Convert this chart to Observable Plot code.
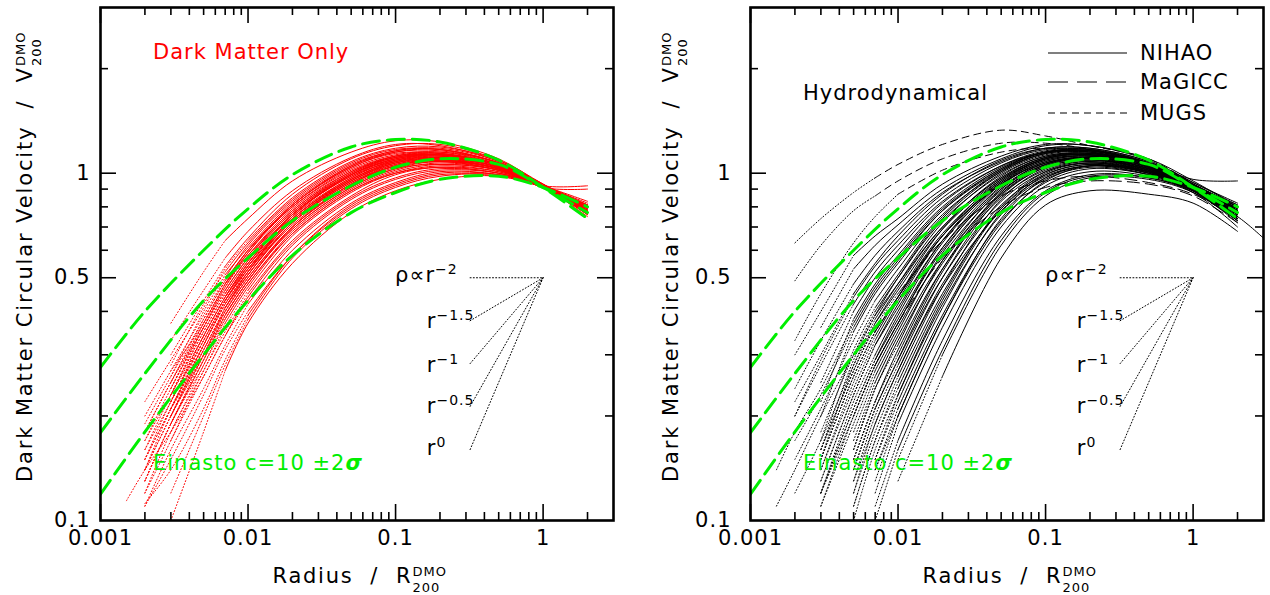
<!DOCTYPE html>
<html><head><meta charset="utf-8">
<script src="https://cdn.jsdelivr.net/npm/d3@7"></script>
<script src="https://cdn.jsdelivr.net/npm/@observablehq/plot@0.6"></script>
<style>
html,body{margin:0;padding:0;background:#fff;}
#wrap{display:flex;width:1270px;height:595px;overflow:hidden;}
#wrap text{letter-spacing:1px;}
</style></head>
<body><div id="wrap"></div>
<script>
const FONT = "DejaVu Sans, sans-serif";
const RED = "#ff0000", GREEN = "#00ee00";
const N = null;

// ---- axis ticks ----
const xMajorTicks = [0.001, 0.01, 0.1, 1];
const xMajorLabels = ["0.001", "0.01", "0.1", "1"];
const xMinorTicks = [0.002,0.003,0.004,0.005,0.006,0.007,0.008,0.009,0.02,0.03,0.04,0.05,0.06,0.07,0.08,0.09,0.2,0.3,0.4,0.5,0.6,0.7,0.8,0.9,2];
const yMajorTicks = [0.1, 0.5, 1];
const yMajorLabels = ["0.1", "0.5", "1"];
const yMinorTicks = [0.2,0.3,0.4,0.6,0.7,0.8,0.9,2];

// ---- Einasto c=10 +-2 sigma (green) ----
const einastoRadii = [0.001, 0.002, 0.005, 0.01, 0.02, 0.05, 0.1, 0.2, 0.5, 1, 2];
const einastoHigh  = [0.276, 0.40, 0.60, 0.79, 0.99, 1.19, 1.25, 1.23, 1.09, 0.91, 0.74];
const einastoMid   = [0.179, 0.265, 0.43, 0.57, 0.73, 0.92, 1.04, 1.10, 1.06, 0.91, 0.77];
const einastoLow   = [0.119, 0.18, 0.30, 0.43, 0.58, 0.77, 0.88, 0.96, 0.98, 0.91, 0.80];

// ---- slope guides (hub at r=1, V=0.5) ----
const guideNames = ["rho-2", "r-1.5", "r-1", "r-0.5", "r0"];
const guideStartR = 0.32;
const guideStartV = [0.5, 0.376, 0.283, 0.213, 0.16];
const guideHub = {r: 1, v: 0.5};
const guideLabelR = [0.1, 0.164, 0.164, 0.164, 0.164];
const guideLabelV = [0.485, 0.357, 0.267, 0.203, 0.154];
const guideBase = ["\u03C1\u221Dr", "r", "r", "r", "r"];
const guideExp = ["\u22122", "\u22121.5", "\u22121", "\u22120.5", "0"];

// ---- simulated rotation curves: first entry = convergence radius, then V at curveRadii ----
const curveRadii = [0.0015, 0.002, 0.003, 0.005, 0.007, 0.01, 0.02, 0.05, 0.1, 0.2, 0.5, 1, 2, 3];

const dmoCurves = [
  [0.007, N, N, 0.37, 0.52, 0.64, 0.74, 0.95, 1.15, 1.24, 1.23, 1.10, 0.92, 0.75, N],
  [0.007, N, N, 0.33, 0.46, 0.57, 0.68, 0.89, 1.11, 1.21, 1.20, 1.08, 0.92, 0.77, N],
  [0.01, N, 0.22, 0.29, 0.41, 0.53, 0.64, 0.85, 1.08, 1.18, 1.19, 1.09, 0.93, 0.78, N],
  [0.007, N, 0.20, 0.27, 0.39, 0.50, 0.62, 0.83, 1.06, 1.16, 1.18, 1.08, 0.92, 0.79, N],
  [0.01, N, 0.19, 0.26, 0.38, 0.49, 0.60, 0.81, 1.04, 1.15, 1.17, 1.07, 0.92, 0.76, N],
  [0.007, N, N, 0.27, 0.37, 0.48, 0.59, 0.80, 1.03, 1.13, 1.15, 1.06, 0.91, 0.78, N],
  [0.01, N, 0.17, 0.24, 0.36, 0.47, 0.58, 0.78, 1.01, 1.12, 1.14, 1.06, 0.92, 0.80, N],
  [0.007, N, 0.18, 0.25, 0.36, 0.46, 0.57, 0.77, 1.00, 1.11, 1.14, 1.05, 0.91, 0.77, N],
  [0.01, N, 0.16, 0.23, 0.35, 0.45, 0.56, 0.76, 0.99, 1.10, 1.13, 1.05, 0.92, 0.79, N],
  [0.007, N, 0.17, 0.23, 0.34, 0.44, 0.55, 0.75, 0.97, 1.09, 1.12, 1.04, 0.91, 0.78, N],
  [0.01, N, 0.15, 0.22, 0.33, 0.43, 0.54, 0.74, 0.96, 1.08, 1.11, 1.04, 0.92, 0.80, N],
  [0.007, N, N, 0.22, 0.33, 0.43, 0.53, 0.73, 0.95, 1.07, 1.11, 1.04, 0.91, 0.81, N],
  [0.01, N, 0.14, 0.21, 0.32, 0.42, 0.52, 0.72, 0.94, 1.06, 1.10, 1.03, 0.91, 0.77, N],
  [0.007, N, 0.15, 0.21, 0.31, 0.41, 0.51, 0.71, 0.93, 1.05, 1.09, 1.03, 0.92, 0.82, N],
  [0.01, N, 0.14, 0.20, 0.31, 0.40, 0.50, 0.70, 0.92, 1.04, 1.08, 1.03, 0.91, 0.78, N],
  [0.007, N, N, 0.21, 0.30, 0.39, 0.49, 0.69, 0.91, 1.03, 1.08, 1.02, 0.92, 0.92, N],
  [0.01, N, 0.13, 0.19, 0.29, 0.38, 0.48, 0.68, 0.90, 1.02, 1.07, 1.02, 0.91, 0.79, N],
  [0.007, N, 0.13, 0.19, 0.28, 0.37, 0.47, 0.67, 0.89, 1.01, 1.06, 1.02, 0.92, 0.80, N],
  [0.01, N, 0.12, 0.18, 0.27, 0.36, 0.46, 0.66, 0.88, 1.00, 1.05, 1.01, 0.91, 0.76, N],
  [0.01, N, 0.12, 0.17, 0.27, 0.35, 0.45, 0.64, 0.86, 0.99, 1.04, 1.01, 0.92, 0.83, N],
  [0.007, N, N, 0.17, 0.26, 0.34, 0.44, 0.63, 0.85, 0.97, 1.03, 1.00, 0.91, 0.78, N],
  [0.01, 0.114, 0.14, 0.18, 0.26, 0.34, 0.43, 0.62, 0.84, 0.96, 1.02, 1.00, 0.92, 0.80, N],
  [0.01, N, 0.11, 0.16, 0.24, 0.32, 0.42, 0.60, 0.82, 0.94, 1.01, 0.99, 0.91, 0.79, N],
  [0.007, N, N, 0.10, 0.18, 0.27, 0.37, 0.55, 0.77, 0.89, 0.96, 0.98, 0.91, 0.80, N],
  [0.01, N, 0.11, 0.15, 0.23, 0.31, 0.40, 0.58, 0.80, 0.92, 0.99, 0.98, 0.91, 0.79, N],
  [0.01, N, N, 0.12, 0.20, 0.28, 0.38, 0.57, 0.79, 0.91, 0.98, 0.99, 0.92, 0.81, N],
  [0.01, N, 0.112, 0.14, 0.21, 0.29, 0.39, 0.58, 0.81, 0.93, 1.00, 0.99, 0.91, 0.78, N],
  [0.01, N, 0.16, 0.22, 0.34, 0.44, 0.55, 0.76, 0.98, 1.10, 1.13, 1.05, 0.91, 0.77, N],
  [0.01, N, 0.15, 0.21, 0.32, 0.42, 0.53, 0.73, 0.96, 1.08, 1.12, 1.04, 0.92, 0.79, N],
  [0.01, N, 0.14, 0.20, 0.30, 0.40, 0.51, 0.72, 0.95, 1.07, 1.10, 1.04, 0.91, 0.90, N],
  [0.007, N, 0.18, 0.25, 0.37, 0.48, 0.60, 0.81, 1.05, 1.16, 1.17, 1.07, 0.93, 0.78, N],
  [0.01, N, 0.13, 0.19, 0.29, 0.39, 0.49, 0.70, 0.93, 1.05, 1.09, 1.03, 0.91, 0.81, N],
  [0.007, N, N, 0.30, 0.43, 0.54, 0.65, 0.87, 1.10, 1.20, 1.21, 1.09, 0.92, 0.76, N],
  [0.007, N, N, 0.28, 0.42, 0.52, 0.63, 0.84, 1.07, 1.17, 1.17, 1.07, 0.92, 0.78, N],
  [0.007, N, N, 0.26, 0.40, 0.51, 0.61, 0.82, 1.05, 1.15, 1.16, 1.07, 0.93, 0.80, N],
  [0.007, N, N, 0.25, 0.38, 0.49, 0.60, 0.80, 1.02, 1.12, 1.13, 1.06, 0.92, 0.77, N],
  [0.007, N, N, 0.24, 0.37, 0.48, 0.58, 0.79, 1.01, 1.11, 1.13, 1.05, 0.91, 0.79, N],
  [0.007, N, N, 0.24, 0.36, 0.46, 0.57, 0.78, 1.00, 1.12, 1.15, 1.07, 0.92, 0.78, N],
  [0.007, N, N, 0.23, 0.35, 0.45, 0.56, 0.77, 0.99, 1.09, 1.11, 1.04, 0.92, 0.80, N],
  [0.007, N, N, 0.22, 0.34, 0.44, 0.55, 0.76, 0.98, 1.08, 1.10, 1.03, 0.91, 0.79, N],
  [0.007, N, N, 0.22, 0.34, 0.44, 0.54, 0.74, 0.97, 1.09, 1.13, 1.06, 0.92, 0.77, N],
  [0.007, N, N, 0.21, 0.33, 0.43, 0.53, 0.74, 0.96, 1.07, 1.09, 1.03, 0.91, 0.81, N],
  [0.007, N, N, 0.21, 0.32, 0.42, 0.52, 0.73, 0.95, 1.06, 1.09, 1.03, 0.92, 0.79, N],
  [0.007, N, N, 0.20, 0.31, 0.41, 0.51, 0.72, 0.94, 1.05, 1.08, 1.02, 0.91, 0.78, N],
  [0.007, N, N, 0.20, 0.30, 0.40, 0.50, 0.70, 0.93, 1.05, 1.09, 1.03, 0.92, 0.80, N],
  [0.007, N, N, 0.19, 0.29, 0.39, 0.49, 0.69, 0.91, 1.03, 1.06, 1.02, 0.91, 0.79, N],
  [0.007, N, N, 0.18, 0.28, 0.38, 0.48, 0.67, 0.89, 1.00, 1.04, 1.00, 0.92, 0.81, N],
  [0.007, N, N, 0.19, 0.30, 0.41, 0.52, 0.75, 0.99, 1.11, 1.13, 1.05, 0.91, 0.78, N],
  [0.007, N, N, 0.23, 0.36, 0.47, 0.59, 0.81, 1.04, 1.14, 1.14, 1.05, 0.92, 0.77, N],
  [0.007, N, N, 0.20, 0.32, 0.43, 0.54, 0.76, 0.99, 1.10, 1.12, 1.04, 0.91, 0.80, N]
];

const nihaoCurves = [
  [0.005, N, 0.30, 0.40, 0.58, 0.66, 0.74, 0.93, 1.12, 1.21, 1.20, 1.10, 0.95, 0.80, N],
  [0.005, N, N, 0.36, 0.53, 0.62, 0.71, 0.90, 1.10, 1.20, 1.20, 1.09, 0.94, 0.82, N],
  [0.005, N, 0.24, 0.33, 0.48, 0.58, 0.68, 0.88, 1.08, 1.18, 1.18, 1.08, 0.93, 0.78, N],
  [0.005, N, 0.20, 0.29, 0.44, 0.54, 0.64, 0.85, 1.07, 1.17, 1.17, 1.07, 0.92, 0.76, N],
  [0.005, N, N, 0.25, 0.40, 0.50, 0.60, 0.82, 1.05, 1.16, 1.17, 1.06, 0.93, 0.79, N],
  [0.005, 0.14, 0.18, 0.24, 0.37, 0.47, 0.57, 0.79, 1.03, 1.15, 1.16, 1.06, 0.92, 0.77, N],
  [0.007, N, 0.15, 0.21, 0.33, 0.43, 0.53, 0.76, 1.01, 1.14, 1.15, 1.05, 0.91, 0.75, N],
  [0.007, N, N, 0.18, 0.30, 0.40, 0.50, 0.73, 0.99, 1.12, 1.14, 1.05, 0.92, 0.78, N],
  [0.007, N, 0.12, 0.17, 0.28, 0.37, 0.47, 0.70, 0.97, 1.11, 1.13, 1.04, 0.91, 0.74, N],
  [0.007, N, N, 0.15, 0.26, 0.35, 0.44, 0.67, 0.95, 1.10, 1.13, 1.04, 0.92, 0.80, N],
  [0.007, N, N, 0.13, 0.23, 0.32, 0.41, 0.64, 0.93, 1.08, 1.12, 1.03, 0.91, 0.76, N],
  [0.007, N, N, 0.12, 0.21, 0.29, 0.38, 0.61, 0.91, 1.07, 1.11, 1.03, 0.92, 0.79, N],
  [0.007, N, N, 0.11, 0.19, 0.27, 0.36, 0.58, 0.89, 1.05, 1.10, 1.02, 0.91, 0.74, N],
  [0.007, N, N, N, 0.17, 0.25, 0.34, 0.56, 0.87, 1.04, 1.09, 1.02, 0.90, 0.77, N],
  [0.007, N, N, N, 0.15, 0.22, 0.31, 0.53, 0.85, 1.02, 1.08, 1.01, 0.90, 0.75, N],
  [0.007, N, N, N, 0.14, 0.21, 0.29, 0.50, 0.83, 1.01, 1.07, 1.01, 0.91, 0.78, N],
  [0.01, N, N, N, 0.12, 0.19, 0.27, 0.48, 0.81, 0.99, 1.06, 1.00, 0.89, 0.73, N],
  [0.01, N, N, N, 0.11, 0.17, 0.25, 0.45, 0.79, 0.98, 1.05, 1.00, 0.90, 0.76, N],
  [0.01, N, N, N, N, 0.15, 0.23, 0.42, 0.76, 0.96, 1.04, 0.99, 0.89, 0.72, N],
  [0.01, N, N, N, N, 0.14, 0.21, 0.39, 0.73, 0.94, 1.03, 0.99, 0.90, 0.77, N],
  [0.01, N, N, N, N, 0.12, 0.19, 0.36, 0.70, 0.92, 1.01, 0.98, 0.89, 0.74, N],
  [0.01, N, N, N, N, 0.11, 0.17, 0.33, 0.66, 0.89, 0.99, 0.97, 0.88, 0.70, N],
  [0.02, N, N, N, N, N, 0.15, 0.30, 0.62, 0.86, 0.97, 0.96, 0.88, 0.73, N],
  [0.02, N, N, N, N, N, 0.13, 0.26, 0.57, 0.81, 0.89, 0.87, 0.82, 0.68, N],
  [0.01, N, N, N, N, 0.10, 0.16, 0.31, 0.64, 0.88, 0.98, 0.97, 0.89, 0.75, N],
  [0.007, N, N, N, 0.13, 0.19, 0.27, 0.47, 0.78, 0.97, 1.05, 1.01, 0.91, 0.79, N],
  [0.007, N, N, 0.14, 0.24, 0.33, 0.43, 0.66, 0.94, 1.09, 1.12, 1.03, 0.92, 0.81, N],
  [0.005, N, 0.17, 0.23, 0.36, 0.46, 0.56, 0.78, 1.02, 1.14, 1.16, 1.06, 0.93, 0.80, N],
  [0.007, N, N, 0.16, 0.27, 0.37, 0.46, 0.69, 0.96, 1.10, 1.13, 1.04, 0.91, 0.77, N],
  [0.007, N, N, 0.15, 0.26, 0.35, 0.44, 0.66, 0.93, 1.07, 1.10, 1.01, 0.88, 0.75, 0.65],
  [0.005, N, 0.20, 0.28, 0.42, 0.52, 0.62, 0.83, 1.05, 1.15, 1.16, 1.07, 0.96, 0.95, N],
  [0.007, 0.11, 0.14, 0.20, 0.30, 0.39, 0.48, 0.70, 0.97, 1.11, 1.14, 1.05, 0.92, 0.78, N],
  [0.007, N, N, N, 0.16, 0.24, 0.33, 0.55, 0.88, 1.06, 1.11, 1.03, 0.92, 0.78, N],
  [0.007, N, N, 0.12, 0.20, 0.28, 0.37, 0.60, 0.90, 1.06, 1.10, 1.02, 0.91, 0.76, N],
  [0.01, N, N, N, N, 0.13, 0.20, 0.38, 0.72, 0.95, 1.05, 1.01, 0.91, 0.78, N],
  [0.005, N, 0.22, 0.30, 0.45, 0.55, 0.66, 0.87, 1.09, 1.18, 1.18, 1.08, 0.94, 0.81, N],
  [0.005, N, N, 0.22, 0.38, 0.48, 0.58, 0.80, 1.04, 1.15, 1.16, 1.07, 0.93, 0.78, N],
  [0.005, N, N, 0.20, 0.35, 0.45, 0.55, 0.78, 1.03, 1.15, 1.17, 1.07, 0.92, 0.76, N],
  [0.007, N, N, 0.17, 0.31, 0.41, 0.51, 0.75, 1.02, 1.15, 1.16, 1.06, 0.92, 0.79, N],
  [0.007, N, N, 0.15, 0.28, 0.38, 0.48, 0.72, 1.00, 1.13, 1.15, 1.05, 0.91, 0.77, N],
  [0.007, N, N, 0.14, 0.25, 0.34, 0.44, 0.69, 0.98, 1.12, 1.14, 1.05, 0.92, 0.80, N],
  [0.007, N, N, 0.13, 0.23, 0.32, 0.42, 0.66, 0.96, 1.11, 1.14, 1.04, 0.91, 0.76, N],
  [0.007, N, N, 0.12, 0.22, 0.30, 0.40, 0.64, 0.95, 1.10, 1.13, 1.04, 0.92, 0.78, N],
  [0.007, N, N, 0.11, 0.20, 0.28, 0.37, 0.61, 0.93, 1.09, 1.12, 1.03, 0.91, 0.75, N],
  [0.007, N, N, N, 0.18, 0.26, 0.35, 0.59, 0.92, 1.08, 1.12, 1.03, 0.92, 0.79, N],
  [0.01, N, N, N, 0.16, 0.24, 0.32, 0.56, 0.90, 1.07, 1.11, 1.02, 0.90, 0.74, N],
  [0.01, N, N, N, 0.15, 0.22, 0.30, 0.53, 0.88, 1.06, 1.10, 1.02, 0.91, 0.77, N],
  [0.01, N, N, N, 0.13, 0.20, 0.28, 0.50, 0.86, 1.04, 1.09, 1.01, 0.90, 0.75, N],
  [0.01, N, N, N, 0.12, 0.18, 0.26, 0.47, 0.84, 1.03, 1.08, 1.01, 0.91, 0.78, N],
  [0.01, N, N, N, 0.11, 0.17, 0.24, 0.44, 0.80, 1.01, 1.07, 1.00, 0.89, 0.73, N],
  [0.01, N, N, N, N, 0.15, 0.22, 0.41, 0.77, 0.99, 1.06, 1.00, 0.90, 0.76, N],
  [0.01, N, N, N, N, 0.14, 0.20, 0.38, 0.74, 0.97, 1.05, 0.99, 0.89, 0.74, N],
  [0.01, N, N, N, 0.10, 0.16, 0.23, 0.43, 0.79, 1.00, 1.07, 1.01, 0.91, 0.79, N],
  [0.007, N, N, 0.16, 0.29, 0.39, 0.50, 0.74, 1.01, 1.14, 1.15, 1.06, 0.93, 0.80, N],
  [0.007, N, N, 0.12, 0.21, 0.29, 0.39, 0.63, 0.94, 1.10, 1.13, 1.04, 0.92, 0.78, N],
  [0.01, N, N, N, 0.14, 0.21, 0.29, 0.52, 0.87, 1.05, 1.10, 1.02, 0.91, 0.76, N]
];

const magiccCurves = [
  [0.01, N, N, 0.16, 0.27, 0.36, 0.45, 0.64, 0.86, 0.95, 0.98, 0.94, 0.87, 0.74, N],
  [0.01, N, N, N, 0.20, 0.28, 0.37, 0.57, 0.80, 0.91, 0.95, 0.93, 0.86, 0.72, N]
];

const mugsCurves = [
  [0.007, N, 0.63, 0.74, 0.88, 0.97, 1.06, 1.21, 1.33, 1.28, 1.20, 1.10, 0.93, N, N],
  [0.007, N, 0.49, 0.62, 0.78, 0.86, 0.95, 1.10, 1.22, 1.22, 1.17, 1.06, 0.92, N, N],
  [0.01, N, 0.33, 0.45, 0.63, 0.75, 0.87, 1.02, 1.15, 1.18, 1.15, 1.05, 0.91, N, N]
];

const legendNames = ["NIHAO", "MaGICC", "MUGS"];

// ---- helpers to build tidy point tables ----
function splitCurves(rows, prefix) {
  const dotted = [], solid = [];
  rows.forEach((row, i) => {
    const conv = row[0];
    row.slice(1).forEach((v, j) => {
      if (v == null) return;
      const r = curveRadii[j];
      const p = {id: prefix + i, r, v};
      if (r <= conv) dotted.push(p);
      if (r >= conv) solid.push(p);
    });
  });
  return {dotted, solid};
}
const einastoPts = [];
[["hi", einastoHigh], ["mid", einastoMid], ["lo", einastoLow]].forEach(([id, arr]) =>
  arr.forEach((v, i) => einastoPts.push({id, r: einastoRadii[i], v})));
const guidePts = [];
guideStartV.forEach((v, i) => {
  guidePts.push({id: guideNames[i], r: guideStartR, v});
  guidePts.push({id: guideNames[i], r: guideHub.r, v: guideHub.v});
});

const dmo = splitCurves(dmoCurves, "dmo");
const nihao = splitCurves(nihaoCurves, "n");
const magicc = splitCurves(magiccCurves, "g");
const mugs = splitCurves(mugsCurves, "m");

const DOTS = "1,2.2";
const curveOpts = (extra) => Object.assign({x: "r", y: "v", z: "id", curve: "catmull-rom", clip: true, strokeWidth: 1}, extra);

function makePanel(cfg) {
  const IH = 513, MAJ = 16, MIN = 8, TW = 1.6;
  const marks = [
    ...cfg.layers,
    Plot.line(einastoPts, curveOpts({stroke: GREEN, strokeWidth: 3, strokeDasharray: "17,8"})),
    Plot.line(guidePts, {x: "r", y: "v", z: "id", stroke: "black", strokeWidth: 1, strokeDasharray: DOTS}),
    Plot.ruleX(xMajorTicks, {insetTop: IH - MAJ, strokeWidth: TW}),
    Plot.ruleX(xMajorTicks, {insetBottom: IH - MAJ, strokeWidth: TW}),
    Plot.ruleX(xMinorTicks, {insetTop: IH - MIN, strokeWidth: TW}),
    Plot.ruleX(xMinorTicks, {insetBottom: IH - MIN, strokeWidth: TW}),
    Plot.ruleY(yMajorTicks.slice(1), {insetRight: IH - MAJ, strokeWidth: TW}),
    Plot.ruleY(yMajorTicks.slice(1), {insetLeft: IH - MAJ, strokeWidth: TW}),
    Plot.ruleY(yMinorTicks, {insetRight: IH - MIN, strokeWidth: TW}),
    Plot.ruleY(yMinorTicks, {insetLeft: IH - MIN, strokeWidth: TW}),
    Plot.frame({strokeWidth: 2.6}),
    Plot.text(xMajorTicks, {x: d => d, text: (d, i) => xMajorLabels[i], frameAnchor: "bottom", dy: 24, fontSize: 21}),
    Plot.text(yMajorTicks, {y: d => d, text: (d, i) => yMajorLabels[i], frameAnchor: "left", dx: cfg.yTickDx, textAnchor: "end", fontSize: 21})
  ];
  return Plot.plot({
    width: 635, height: 595,
    marginLeft: cfg.marginLeft, marginRight: cfg.marginRight, marginTop: 7, marginBottom: 75,
    x: {type: "log", domain: [0.001, 3], axis: null},
    y: {type: "log", domain: [0.1, 3], axis: null},
    style: {fontFamily: FONT, fontSize: "21px", background: "white", overflow: "visible", color: "black"},
    marks
  });
}

function rich(svg, x, y, segs, fill = "black", anchor = "start") {
  const t = d3.select(svg).append("text").attr("x", x).attr("y", y)
    .attr("font-family", FONT).attr("fill", fill).attr("text-anchor", anchor).style("white-space", "pre");
  let cur = 0;
  segs.forEach(s => {
    const rise = s.rise || 0;
    t.append("tspan").attr("dy", cur - rise).attr("font-size", s.size || 21)
      .attr("font-style", s.italic ? "italic" : null).attr("font-weight", s.bold ? "bold" : null)
      .text(s.text);
    cur = rise;
  });
  return t;
}

// axis title: main text occupies [pivot-mainLen, pivot], DMO/200 stacked after it
function axisLabel(svg, pivot, base, rotated, mainText, mainLen) {
  const g = d3.select(svg).append("g")
    .attr("font-family", FONT).attr("fill", "black").attr("text-anchor", "start")
    .attr("transform", rotated ? `translate(${base},0) rotate(-90)` : `translate(0,${base})`);
  const p = rotated ? -pivot : pivot;
  g.append("text").attr("font-size", 21).attr("x", p - mainLen).attr("text-anchor", "start")
    .attr("textLength", mainLen).attr("lengthAdjust", "spacing")
    .style("white-space", "pre").style("letter-spacing", "0px").text(mainText);
  g.append("text").attr("font-size", 13).attr("x", p + 2).attr("y", -7).attr("text-anchor", "start").text("DMO");
  g.append("text").attr("font-size", 13).attr("x", p + 2).attr("y", 9).attr("text-anchor", "start").text("200");
}

function decorate(chart, cfg) {
  const sx = chart.scale("x"), sy = chart.scale("y");
  const cx = (cfg.marginLeft + 635 - cfg.marginRight) / 2;
  axisLabel(chart, cx + 54, 583, false, "Radius  /  R", 138);
  axisLabel(chart, 68, cfg.yLabelX, true, "Dark Matter Circular Velocity  /  V", 414);
  guideBase.forEach((b, i) => {
    rich(chart, sx.apply(guideLabelR[i]), sy.apply(guideLabelV[i]),
      [{text: b, size: 21}, {text: guideExp[i], size: 14, rise: 8}]);
  });
  rich(chart, cfg.einX, 470, [{text: "Einasto c=10 \u00B12", size: 21}, {text: "\u03C3", size: 21, italic: true, bold: true}], GREEN);
}

const wrap = document.getElementById("wrap");

// LEFT: Dark Matter Only
const leftCfg = {marginLeft: 100, marginRight: 22, yTickDx: -10, yLabelX: 32, einX: 153,
  layers: [
    Plot.line(dmo.dotted, curveOpts({stroke: RED, strokeDasharray: DOTS})),
    Plot.line(dmo.solid, curveOpts({stroke: RED}))
  ]};
const left = makePanel(leftCfg);
wrap.appendChild(left);
decorate(left, leftCfg);
rich(left, 153, 59, [{text: "Dark Matter Only", size: 21}], RED);

// RIGHT: Hydrodynamical
const rightCfg = {marginLeft: 115, marginRight: 7, yTickDx: -19, yLabelX: 43, einX: 168,
  layers: [
    Plot.line(nihao.dotted, curveOpts({stroke: "black", strokeDasharray: DOTS})),
    Plot.line(magicc.dotted, curveOpts({stroke: "black", strokeDasharray: DOTS})),
    Plot.line(mugs.dotted, curveOpts({stroke: "black", strokeDasharray: DOTS})),
    Plot.line(nihao.solid, curveOpts({stroke: "black"})),
    Plot.line(magicc.solid, curveOpts({stroke: "black", strokeDasharray: "12,6"})),
    Plot.line(mugs.solid, curveOpts({stroke: "black", strokeDasharray: "7,5"}))
  ]};
const right = makePanel(rightCfg);
wrap.appendChild(right);
decorate(right, rightCfg);
rich(right, 168, 100, [{text: "Hydrodynamical", size: 21}]);
const legDash = [null, "20,9", "7,5"];
const legY = [53, 82, 113];
legendNames.forEach((name, i) => {
  d3.select(right).append("line").attr("x1", 413).attr("x2", 492).attr("y1", legY[i]).attr("y2", legY[i])
    .attr("stroke", "black").attr("stroke-width", 1.2).attr("stroke-dasharray", legDash[i]);
  rich(right, 505, legY[i] + 7, [{text: name, size: 21}]);
});
</script>
</body></html>
